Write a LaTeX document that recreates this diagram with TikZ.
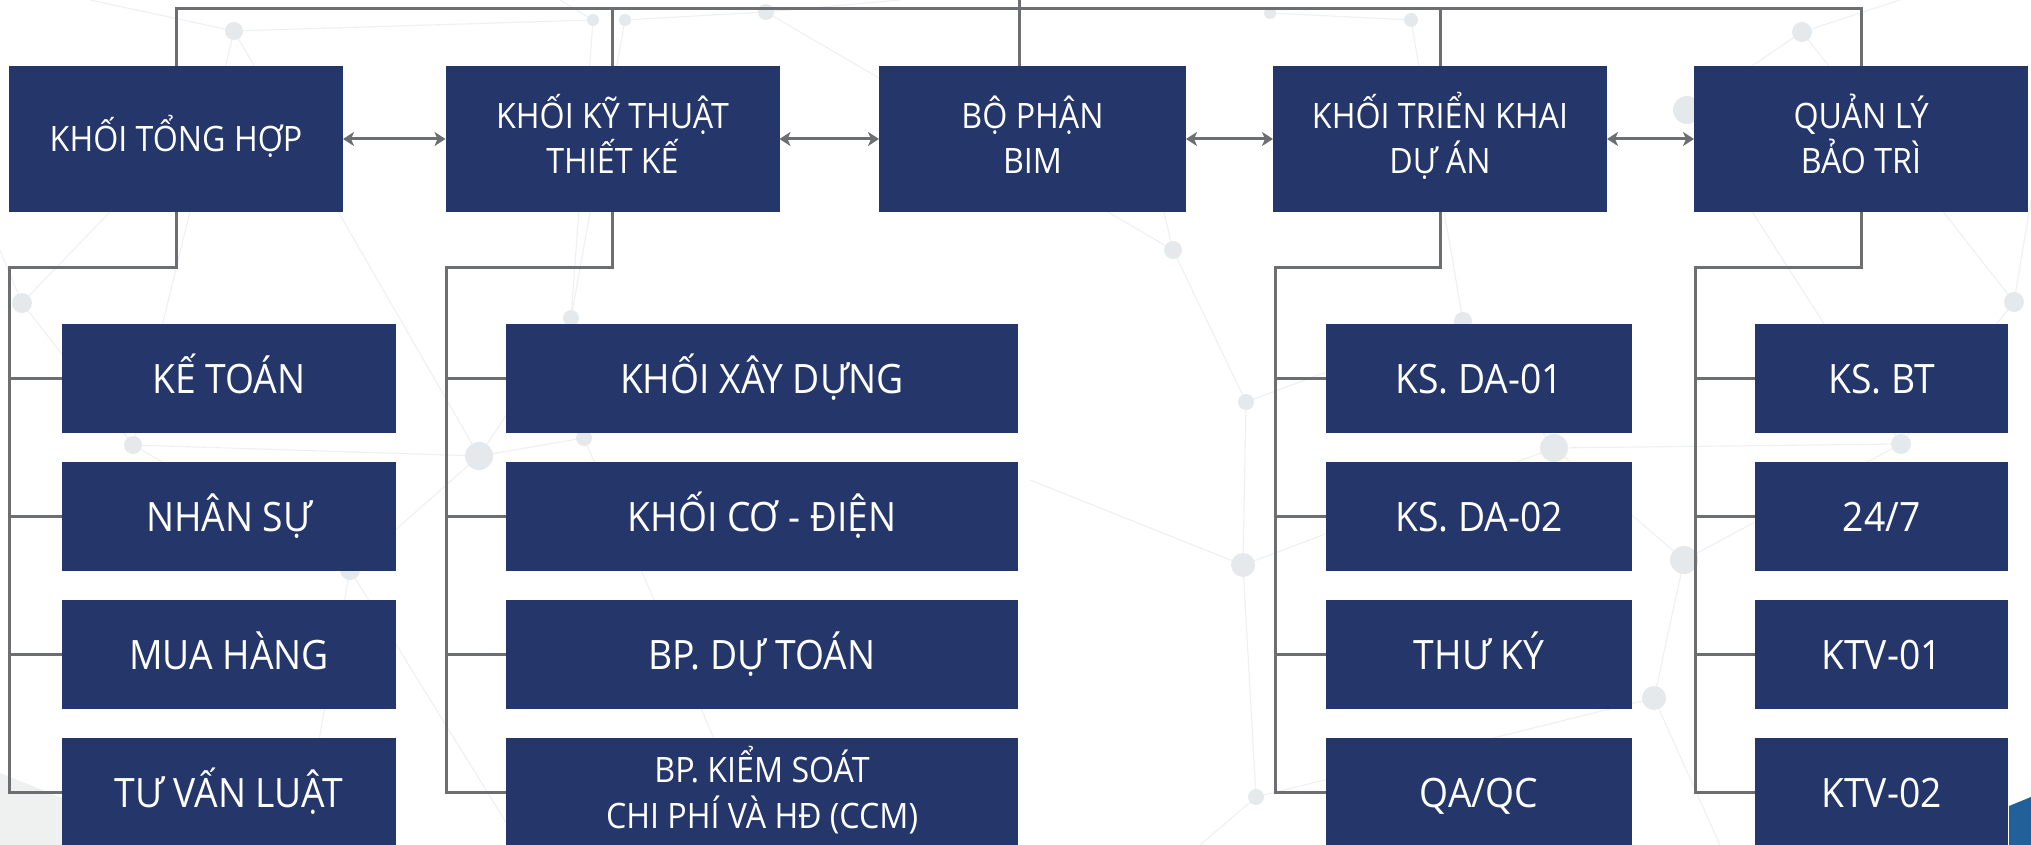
\documentclass[tikz,border=0pt]{standalone}
\usepackage{fontspec}
\setmainfont[FakeStretch=0.92]{Open Sans}
\usetikzlibrary{arrows.meta}
\definecolor{navy}{HTML}{25376A}
\definecolor{linegray}{HTML}{6D6E71}
\definecolor{plexline}{HTML}{EEF0F2}
\definecolor{plexfill}{HTML}{E6E9EC}
\definecolor{cornergray}{HTML}{EFF0F0}
\definecolor{cornerblue}{HTML}{22609A}
\newcommand\mytwolines[3]{\vbox{\lineskiplimit=-200pt\baselineskip=#1\relax\halign{\hfil##\hfil\cr#2\cr#3\cr}}}
\begin{document}
\begin{tikzpicture}[x=1pt,y=-1pt,
  box/.style={fill=navy, draw=none, inner sep=0pt, outer sep=0pt, text=white},
  topbox/.style={box, minimum width=334pt, minimum height=146pt,
     font=\fontsize{35}{45}\selectfont, text height=25pt, text depth=0pt},
  toptwo/.style={topbox, text height=70pt},
  subbox/.style={box, minimum height=109pt,
     font=\fontsize{40.5}{50}\selectfont, text height=29pt, text depth=0pt},
  colA/.style={subbox, minimum width=334pt},
  colB/.style={subbox, minimum width=512pt},
  colD/.style={subbox, minimum width=306pt},
  colE/.style={subbox, minimum width=253pt},
  conn/.style={draw=linegray, line width=3pt, line join=miter},
  biarrow/.style={conn, {Stealth[length=11pt,width=14pt,inset=3pt]}-{Stealth[length=11pt,width=14pt,inset=3pt]}},
  plex/.style={draw=plexline, line width=1.1pt},
  pdot/.style={fill=plexfill}
]
\useasboundingbox (0,0) rectangle (2031,845);
\clip (0,0) rectangle (2031,845);
\fill[white] (0,0) rectangle (2031,845);

% background network
\draw[plex] (90,0) -- (234,31) -- (593,20);
\draw[plex] (234,31) -- (479,456);
\draw[plex] (234,31) -- (133,445);
\draw[plex] (0,250) -- (22,303) -- (133,445) -- (479,456);
\draw[plex] (22,303) -- (110,212);
\draw[plex] (133,445) -- (350,570) -- (479,456) -- (584,438) -- (571,318) -- (593,20);
\draw[plex] (479,456) -- (571,318) -- (625,20) -- (766,12) -- (900,0);
\draw[plex] (593,20) -- (560,0);
\draw[plex] (350,570) -- (300,845);
\draw[plex] (350,570) -- (520,845);
\draw[plex] (584,438) -- (760,845);
\draw[plex] (766,12) -- (1173,250) -- (1246,402) -- (1243,565) -- (1256,797) -- (1200,845);
\draw[plex] (1173,250) -- (1130,70);
\draw[plex] (1246,402) -- (1463,321) -- (1554,448) -- (1243,565);
\draw[plex] (1463,321) -- (1411,20) -- (1270,13);
\draw[plex] (1554,448) -- (1684,560) -- (1654,698) -- (1720,845);
\draw[plex] (1554,448) -- (1901,444) -- (2014,302) -- (2031,200);
\draw[plex] (1684,560) -- (1901,444);
\draw[plex] (1256,797) -- (1654,698);
\draw[plex] (1901,444) -- (1687,110) -- (1802,32) -- (1900,0);
\draw[plex] (1802,32) -- (2014,302);
\draw[plex] (1243,565) -- (1030,480);
\foreach \p/\r in {{(234,31)}/9,{(22,303)}/10,{(133,445)}/9,{(479,456)}/14,{(584,438)}/8,{(350,570)}/10,
  {(571,318)}/8,{(593,20)}/6,{(625,20)}/6,{(766,12)}/8,{(1173,250)}/9,{(1246,402)}/8,{(1243,565)}/12,
  {(1256,797)}/8,{(1463,321)}/9,{(1554,448)}/14,{(1684,560)}/14,{(1654,698)}/12,{(1901,444)}/10,
  {(2014,302)}/10,{(1802,32)}/10,{(1411,20)}/7,{(1687,110)}/14,{(1270,13)}/6}
  \fill[pdot] \p circle[radius=\r pt];

% corner shapes
\fill[cornergray] (0,773) -- (180,845) -- (0,845) -- cycle;
\fill[cornerblue] (2009,806) -- (2031,797) -- (2031,845) -- (2009,845) -- cycle;

% top row
\node[topbox] (T1) at (176,139) {KHỐI TỔNG HỢP};
\node[toptwo] (T2) at (612.5,139) {\mytwolines{45pt}{KHỐI KỸ THUẬT}{THIẾT KẾ}};
\node[toptwo, minimum width=307pt] (T3) at (1032.5,139) {\mytwolines{45pt}{BỘ PHẬN}{BIM}};
\node[toptwo] (T4) at (1440,139) {\mytwolines{45pt}{KHỐI TRIỂN KHAI}{DỰ ÁN}};
\node[toptwo] (T5) at (1861,139) {\mytwolines{45pt}{QUẢN LÝ}{BẢO TRÌ}};

% sub boxes
\node[colA] (S11) at (229,378.5) {KẾ TOÁN};
\node[colA] (S12) at (229,516.5) {NHÂN SỰ};
\node[colA] (S13) at (229,654.5) {MUA HÀNG};
\node[colA] (S14) at (229,792.5) {TƯ VẤN LUẬT};

\node[colB] (S21) at (762,378.5) {KHỐI XÂY DỰNG};
\node[colB] (S22) at (762,516.5) {KHỐI CƠ - ĐIỆN};
\node[colB] (S23) at (762,654.5) {BP. DỰ TOÁN};
\node[colB, font=\fontsize{35}{46}\selectfont, text height=71pt] (S24) at (762,792.5)
  {\mytwolines{46pt}{BP. KIỂM SOÁT}{CHI PHÍ VÀ HĐ (CCM)}};

\node[colD] (S41) at (1479,378.5) {KS. DA-01};
\node[colD] (S42) at (1479,516.5) {KS. DA-02};
\node[colD] (S43) at (1479,654.5) {THƯ KÝ};
\node[colD] (S44) at (1479,792.5) {QA/QC};

\node[colE] (S51) at (1881.5,378.5) {KS. BT};
\node[colE] (S52) at (1881.5,516.5) {24/7};
\node[colE] (S53) at (1881.5,654.5) {KTV-01};
\node[colE] (S54) at (1881.5,792.5) {KTV-02};

% top bar
\coordinate (topbar) at (0,9);
\coordinate (root) at (1019,0);
\draw[conn] (T1.north) -- (T1.north |- topbar) -- (T5.north |- topbar) -- (T5.north);
\draw[conn] (T2.north |- topbar) -- (T2.north);
\draw[conn] (T4.north |- topbar) -- (T4.north);
\draw[conn] (root) -- (root |- T3.north);

% arrows
\draw[biarrow] (T1.east) -- (T2.west);
\draw[biarrow] (T2.east) -- (T3.west);
\draw[biarrow] (T3.east) -- (T4.west);
\draw[biarrow] (T4.east) -- (T5.west);

% trees
\coordinate (k1) at (9,267);
\coordinate (k2) at (446,267);
\coordinate (k4) at (1275,267);
\coordinate (k5) at (1695,267);
\draw[conn] (T1.south) |- (k1) -- (k1 |- S14.west) -- (S14.west);
\draw[conn] (T2.south) |- (k2) -- (k2 |- S24.west) -- (S24.west);
\draw[conn] (T4.south) |- (k4) -- (k4 |- S44.west) -- (S44.west);
\draw[conn] (T5.south) |- (k5) -- (k5 |- S54.west) -- (S54.west);
\foreach \s in {S11,S12,S13} \draw[conn] (k1 |- \s.west) -- (\s.west);
\foreach \s in {S21,S22,S23} \draw[conn] (k2 |- \s.west) -- (\s.west);
\foreach \s in {S41,S42,S43} \draw[conn] (k4 |- \s.west) -- (\s.west);
\foreach \s in {S51,S52,S53} \draw[conn] (k5 |- \s.west) -- (\s.west);
\end{tikzpicture}
\end{document}
